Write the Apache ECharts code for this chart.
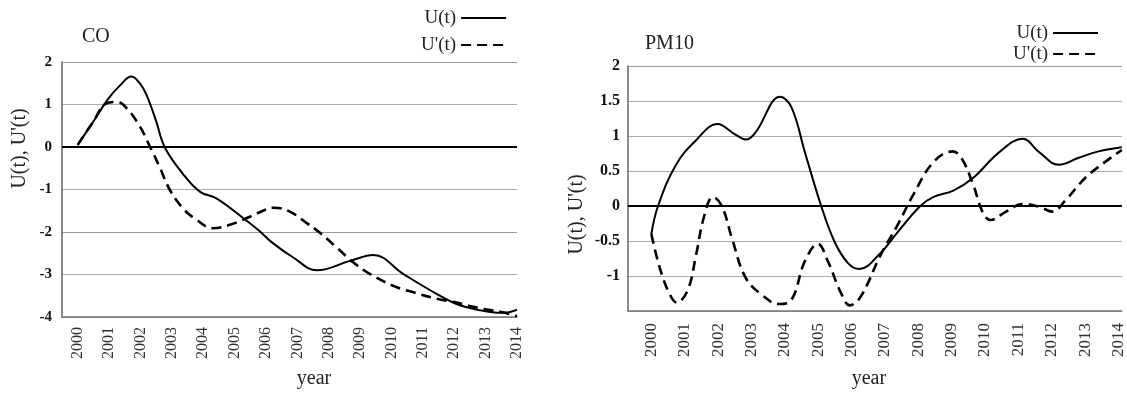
<!DOCTYPE html>
<html>
<head>
<meta charset="utf-8">
<script src="https://cdn.jsdelivr.net/npm/echarts@6/dist/echarts.min.js"></script>
<style>
html,body{margin:0;padding:0;background:#fff;}
#c{width:1127px;height:394px;}
</style>
</head>
<body>
<div id="c"></div>
<script>
// ---- data ----
var yearTicks = [2000,2001,2002,2003,2004,2005,2006,2007,2008,2009,2010,2011,2012,2013,2014];

var coUYears = [2000,2000.5,2000.96,2001.35,2001.71,2002.0,2002.19,2002.5,2002.77,2003.35,2003.89,2004.42,2005.27,2005.8,2006.2,2006.87,2007.62,2008.68,2009.42,2010.38,2011.45,2012.2,2013.16,2013.6,2014];
var coU      = [0.05,0.6,1.12,1.45,1.66,1.48,1.23,0.61,0.0,-0.63,-1.05,-1.21,-1.67,-1.98,-2.25,-2.6,-2.9,-2.68,-2.54,-2.99,-3.46,-3.73,-3.88,-3.9,-3.83];

var coDYears = [2000,2000.5,2000.9,2001.25,2001.55,2001.97,2002.29,2002.61,2002.93,2003.35,2003.78,2004.31,2004.85,2005.49,2006.0,2006.25,2006.76,2007.3,2007.72,2008.26,2008.79,2009.32,2010.1,2010.7,2011.45,2012.0,2012.5,2013.0,2013.5,2014];
var coD      = [0.05,0.6,1.02,1.06,0.92,0.5,0.03,-0.47,-1.0,-1.44,-1.71,-1.91,-1.83,-1.64,-1.47,-1.43,-1.52,-1.79,-2.02,-2.37,-2.72,-2.99,-3.28,-3.42,-3.57,-3.65,-3.74,-3.82,-3.88,-3.98];

var pmUYears = [2000,2000.2,2000.74,2001.34,2001.98,2002.52,2002.84,2003.12,2003.86,2004.2,2004.6,2005.09,2005.49,2005.9,2006.23,2006.87,2007.37,2008.06,2008.46,2009.05,2009.64,2010.43,2011.13,2011.62,2012.21,2012.81,2013.4,2014.1];
var pmU      = [-0.4,0.0,0.59,0.94,1.17,1.02,0.95,1.05,1.56,1.41,0.77,0.0,-0.51,-0.82,-0.9,-0.67,-0.38,0.0,0.13,0.22,0.4,0.77,0.96,0.77,0.59,0.69,0.78,0.84];

var pmDYears = [2000,2000.25,2000.54,2000.76,2001.09,2001.34,2001.58,2001.85,2002.12,2002.42,2002.82,2003.31,2003.83,2004.2,2004.6,2004.99,2005.29,2005.69,2005.95,2006.28,2006.87,2007.37,2007.86,2008.46,2009.03,2009.3,2009.64,2009.94,2010.16,2010.63,2011.13,2011.62,2012.02,2012.41,2013.0,2013.6,2014.1];
var pmD      = [-0.4,-0.88,-1.25,-1.38,-1.2,-0.7,-0.15,0.13,-0.01,-0.47,-1.02,-1.27,-1.4,-1.34,-0.79,-0.54,-0.79,-1.25,-1.42,-1.29,-0.7,-0.28,0.17,0.63,0.78,0.68,0.31,-0.1,-0.2,-0.08,0.03,-0.01,-0.08,0.08,0.4,0.63,0.8];

var coYTicks = [-4,-3,-2,-1,0,1,2];
var pmYTicks = [-1.5,-1,-0.5,0,0.5,1,1.5,2];

function pairs(xs, ys){ return xs.map(function(x,i){ return [x, ys[i]]; }); }

var SERIF = 'Liberation Serif';
var chart = echarts.init(document.getElementById('c'), null, {renderer:'canvas'});

function xAxisCfg(gridIndex, min, max, fs, margin, nameGap, namePad){
  return {
    type:'value', gridIndex:gridIndex, min:min, max:max,
    axisLine:{show:true, onZero:false, lineStyle:{color:'#777', width:1.5}},
    axisTick:{show:false},
    splitLine:{show:false},
    axisLabel:{customValues:yearTicks, rotate:90, margin:margin, color:'#333',
      fontFamily:SERIF, fontSize:fs, formatter:function(v){return String(v);}},
    name:'year', nameLocation:'middle', nameGap:nameGap,
    nameTextStyle:{fontFamily:SERIF, fontSize:20, color:'#222', padding:namePad}
  };
}
function yAxisCfg(gridIndex, min, max, interval, fs, margin, showMin, nameGap, namePad, splitColors){
  return {
    type:'value', gridIndex:gridIndex, min:min, max:max, interval:interval,
    axisLine:{show:true, lineStyle:{color:'#666', width:1.5}},
    axisTick:{show:false},
    splitLine:{show:true, lineStyle:{color:splitColors, width:1.2}},
    axisLabel:{margin:margin, color:'#111', fontFamily:SERIF, fontWeight:'bold', fontSize:fs,
      showMinLabel:showMin, formatter:function(v){return String(v);}},
    name:"U(t), U'(t)", nameLocation:'middle', nameGap:nameGap,
    nameTextStyle:{fontFamily:SERIF, fontSize:20, color:'#222', padding:namePad}
  };
}

var zeroLine = {silent:true, symbol:'none', label:{show:false},
  lineStyle:{color:'#000', width:2, type:'solid'}, data:[{yAxis:0}]};

var solidStyle = {color:'#000', width:2, type:'solid'};
var dashStyle = {color:'#000', width:2.6, type:[10,6]};

var legendBase = {orient:'vertical', align:'right', selectedMode:false,
  data:['U(t)', "U'(t)"], itemWidth:45, itemHeight:10, padding:0,
  itemStyle:{opacity:0}};

var option = {
  backgroundColor:'#fff',
  animation:false,
  title:[
    {text:'CO', left:82, top:27, padding:0, textStyle:{fontFamily:SERIF, fontSize:20, fontWeight:'normal', color:'#222'}},
    {text:'PM10', left:645, top:34, padding:0, textStyle:{fontFamily:SERIF, fontSize:20, fontWeight:'normal', color:'#222'}}
  ],
  legend:[
    Object.assign({}, legendBase, {left:421, top:7, itemGap:5,
     textStyle:{fontFamily:SERIF, fontSize:19, color:'#222', lineHeight:22}}),
    Object.assign({}, legendBase, {left:1013, top:23, itemGap:1,
     textStyle:{fontFamily:SERIF, fontSize:19, color:'#222', lineHeight:20}})
  ],
  grid:[
    {left:62, top:62, width:455, height:258},
    {left:628, top:66, width:499, height:254}
  ],
  xAxis:[
    xAxisCfg(0, 1999.5, 2014, 16, 10, 52, [0,0,0,49]),
    xAxisCfg(1, 1999.3, 2014.1, 17, 12, 58, [0,12,0,0])
  ],
  yAxis:[
    yAxisCfg(0, -4, 2, 1, 15, 10, true, 32, [0,0,0,82], ['#999','#aaa','#999','#aaa','#aaa','#aaa','#999']),
    yAxisCfg(1, -1.5, 2, 0.5, 16, 8, false, 41, [0,52,0,0], ['#aaa','#aaa','#aaa','#aaa','#aaa','#aaa','#aaa','#999'])
  ],
  series:[
    {name:'U(t)', type:'line', xAxisIndex:0, yAxisIndex:0, data:pairs(coUYears, coU),
     smooth:0.4, symbol:'none', lineStyle:solidStyle, itemStyle:{color:'#000'}, markLine:zeroLine, z:3},
    {name:"U'(t)", type:'line', xAxisIndex:0, yAxisIndex:0, data:pairs(coDYears, coD),
     smooth:0.4, symbol:'none', lineStyle:dashStyle, itemStyle:{color:'#000'}, z:3},
    {name:'U(t)', type:'line', xAxisIndex:1, yAxisIndex:1, data:pairs(pmUYears, pmU),
     smooth:0.4, symbol:'none', lineStyle:solidStyle, itemStyle:{color:'#000'}, markLine:zeroLine, z:3},
    {name:"U'(t)", type:'line', xAxisIndex:1, yAxisIndex:1, data:pairs(pmDYears, pmD),
     smooth:0.4, symbol:'none', lineStyle:dashStyle, itemStyle:{color:'#000'}, z:3}
  ]
};
chart.setOption(option);
</script>
</body>
</html>
